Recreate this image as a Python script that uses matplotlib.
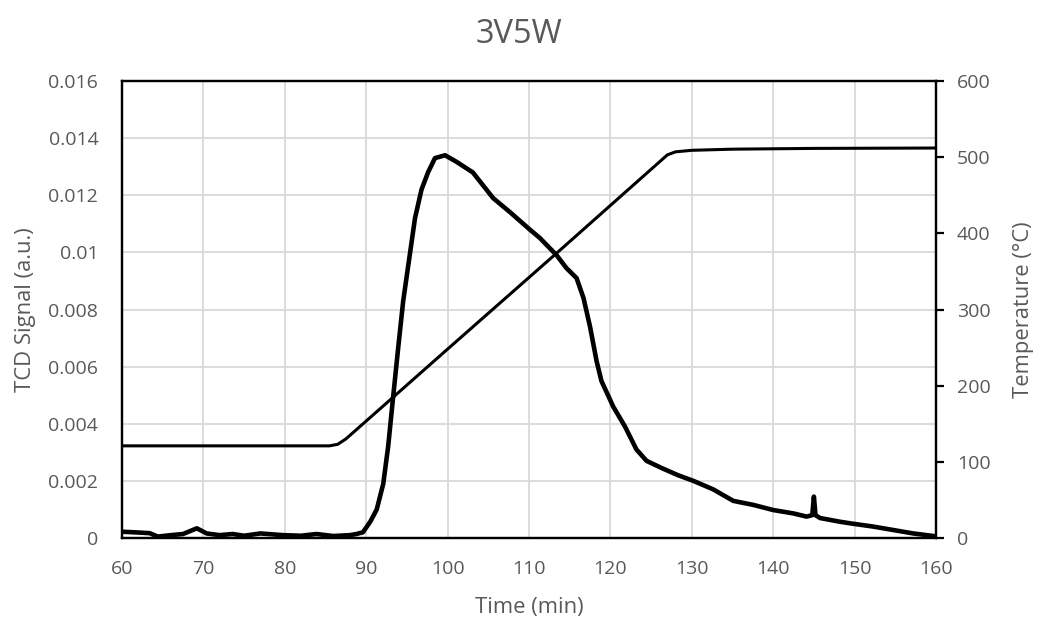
import matplotlib
matplotlib.use("Agg")
import matplotlib.pyplot as plt
from matplotlib.ticker import MultipleLocator

plt.rcParams['font.family'] = ['Open Sans', 'DejaVu Sans']

title = "3V5W"
x_label = "Time (min)"
y_left_label = "TCD Signal (a.u.)"
y_right_label = "Temperature (°C)"

tcd_time = [60, 61.5, 63.4, 64.4, 66, 67.5, 69.2, 70.4, 72, 73.6, 75, 77, 79.8, 82, 83.9,
            85.95, 88, 88.8, 89.6, 90.5, 91.3, 92.1, 92.7, 93.3, 93.95, 94.55, 95.4, 96.0,
            96.8, 97.6, 98.45, 99.7, 101.1, 103.1, 105.6, 107.7, 110.1, 111.35, 113.4,
            114.6, 115.85, 116.7, 117.5, 118.3, 118.9, 120.35, 121.8, 123.2, 124.45, 126.3,
            128.3, 130.2, 132.65, 135.1, 137.55, 140, 142.5, 144.1, 144.8, 145.0, 145.2,
            145.75, 148.2, 149.8, 152.3, 154.75, 157.2, 159.7, 160]
tcd_signal = [0.00022, 0.0002, 0.00017, 0.00005, 0.0001, 0.00014, 0.00034, 0.00016, 0.0001,
              0.00014, 0.00008, 0.00016, 0.0001, 0.00008, 0.00014, 0.00007, 0.0001, 0.00014,
              0.0002, 0.00057, 0.001, 0.0019, 0.0032, 0.0049, 0.0067, 0.0083, 0.0100, 0.0112,
              0.0122, 0.0128, 0.0133, 0.0134, 0.01317, 0.0128, 0.0119, 0.0114, 0.0108,
              0.0105, 0.0099, 0.00945, 0.0091, 0.0084, 0.0074, 0.0062, 0.0055, 0.0046,
              0.0039, 0.0031, 0.0027, 0.00245, 0.0022, 0.0020, 0.0017, 0.0013, 0.00116,
              0.00098, 0.00086, 0.00075, 0.0008, 0.00145, 0.0008, 0.0007, 0.00057, 0.0005,
              0.0004, 0.00028, 0.00016, 0.00007, 0.00005]

temp_time = [60, 70, 80, 85.5, 86.5, 87.5, 89.2, 100, 113.4, 127.0, 128.0, 130, 135, 145, 160]
temperature = [121, 121, 121, 121, 123, 130, 146, 248, 374, 503, 507, 509, 510.5, 511.5, 512]

fig = plt.figure(figsize=(10.37, 6.24), dpi=100)
ax = fig.add_axes([0.1176, 0.1378, 0.7850, 0.7324])
ax2 = ax.twinx()

grid_c = '#d9d9d9'
text_c = '#595959'

ax.set_xlim(60, 160)
ax.set_ylim(0, 0.016)
ax.xaxis.set_major_locator(MultipleLocator(10))
ax.set_yticks([0, 0.002, 0.004, 0.006, 0.008, 0.01, 0.012, 0.014, 0.016])
ax.set_yticklabels(['0', '0.002', '0.004', '0.006', '0.008', '0.01', '0.012', '0.014', '0.016'])
ax.grid(True, color=grid_c, linewidth=1.3)
ax.set_axisbelow(True)

ax2.set_ylim(0, 600)
ax2.set_yticks([0, 100, 200, 300, 400, 500, 600])

ax.plot(tcd_time, tcd_signal, color='black', linewidth=3.3, solid_joinstyle='round', zorder=3)
ax2.plot(temp_time, temperature, color='black', linewidth=2.2, solid_joinstyle='round', zorder=3)

for a in (ax, ax2):
    for s in a.spines.values():
        s.set_color('black')
        s.set_linewidth(1.6)

ax.tick_params(axis='x', length=0, labelsize=14, labelcolor=text_c, pad=16)
ax.tick_params(axis='y', length=0, labelsize=14, labelcolor=text_c, pad=17)
ax2.tick_params(axis='y', length=6, width=1.6, color='black', labelsize=14, labelcolor=text_c, pad=9)

ax.set_xlabel(x_label, fontsize=15.8, color=text_c, labelpad=13.5)
ax.set_ylabel(y_left_label, fontsize=15.8, color=text_c, labelpad=9)
ax2.set_ylabel(y_right_label, fontsize=15.8, color=text_c, labelpad=16)
fig.text(0.5, 0.944, title, fontsize=23.5, color=text_c, ha='center', va='center')

fig.savefig("out.png", dpi=100)
